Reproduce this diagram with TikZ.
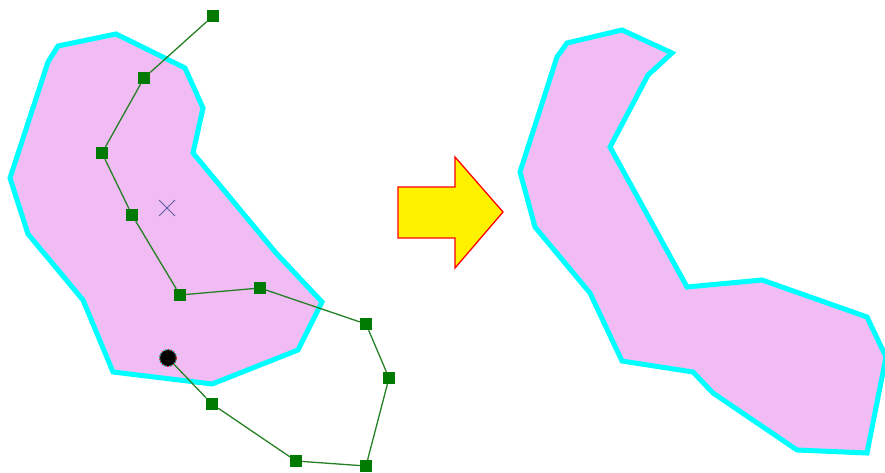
\documentclass[tikz,border=0pt]{standalone}
\usepackage{tikz}
\usetikzlibrary{shapes.misc}
\definecolor{parcelpink}{RGB}{241,188,244}
\definecolor{rimcyan}{RGB}{0,255,255}
\definecolor{vtxgreen}{RGB}{0,122,0}
\definecolor{sketchgreen}{RGB}{38,128,38}
\definecolor{crossblue}{RGB}{95,95,165}

\begin{document}
\begin{tikzpicture}[x=1pt,y=-1pt,
                    parcel/.style={fill=parcelpink, draw=rimcyan, line width=5pt},
                    vtx/.style={rectangle, fill=vtxgreen, minimum size=12pt, inner sep=0pt},
                    sketch/.style={draw=sketchgreen, line width=1.3pt}]
\clip (0,0) rectangle (885,473);
% polygon before reshape
\draw[parcel] (116,34) -- (185,68) -- (203,108) -- (193,153) -- (276,253)
  -- (322,302) -- (298,350) -- (212,384) -- (113,372) -- (83,300)
  -- (28,234) -- (10,178) -- (48,62) -- (58,46) -- cycle;
% polygon after reshape
\draw[parcel] (622,30) -- (672,53) -- (648,75) -- (610,147) -- (687,287)
  -- (762,280) -- (867,317) -- (886,357) -- (867,453) -- (797,450)
  -- (713,393) -- (693,372) -- (622,361) -- (590,293) -- (535,227)
  -- (520,172) -- (557,57) -- (567,43) -- cycle;
% arrow
\draw[fill=yellow, draw=red, line width=1.3pt] (398,187) -- (455,187) -- (455,157)
  -- (503,212) -- (455,268) -- (455,238) -- (398,238) -- cycle;
\node[cross out, draw=crossblue, line width=1pt, minimum size=15pt, inner sep=0pt] (ctr) at (167,208) {};
% sketch vertices
\node[vtx] (s1)  at (213,16)  {};
\node[vtx] (s2)  at (144,78)  {};
\node[vtx] (s3)  at (102,153) {};
\node[vtx] (s4)  at (132,215) {};
\node[vtx] (s5)  at (180,295) {};
\node[vtx] (s6)  at (260,288) {};
\node[vtx] (s7)  at (366,324) {};
\node[vtx] (s8)  at (389,378) {};
\node[vtx] (s9)  at (366,466) {};
\node[vtx] (s10) at (296,461) {};
\node[vtx] (s11) at (212,404) {};
\node[circle, fill=black, draw=rimcyan, line width=0.8pt,
      postaction={draw=red, dash pattern=on 1.5pt off 1.5pt, line width=0.8pt},
      minimum size=17pt, inner sep=0pt] (s12) at (168,358) {};
\draw[sketch] (s1)  -- (s2);
\draw[sketch] (s2)  -- (s3);
\draw[sketch] (s3)  -- (s4);
\draw[sketch] (s4)  -- (s5);
\draw[sketch] (s5)  -- (s6);
\draw[sketch] (s6)  -- (s7);
\draw[sketch] (s7)  -- (s8);
\draw[sketch] (s8)  -- (s9);
\draw[sketch] (s9)  -- (s10);
\draw[sketch] (s10) -- (s11);
\draw[sketch] (s11) -- (s12);
\end{tikzpicture}
\end{document}
